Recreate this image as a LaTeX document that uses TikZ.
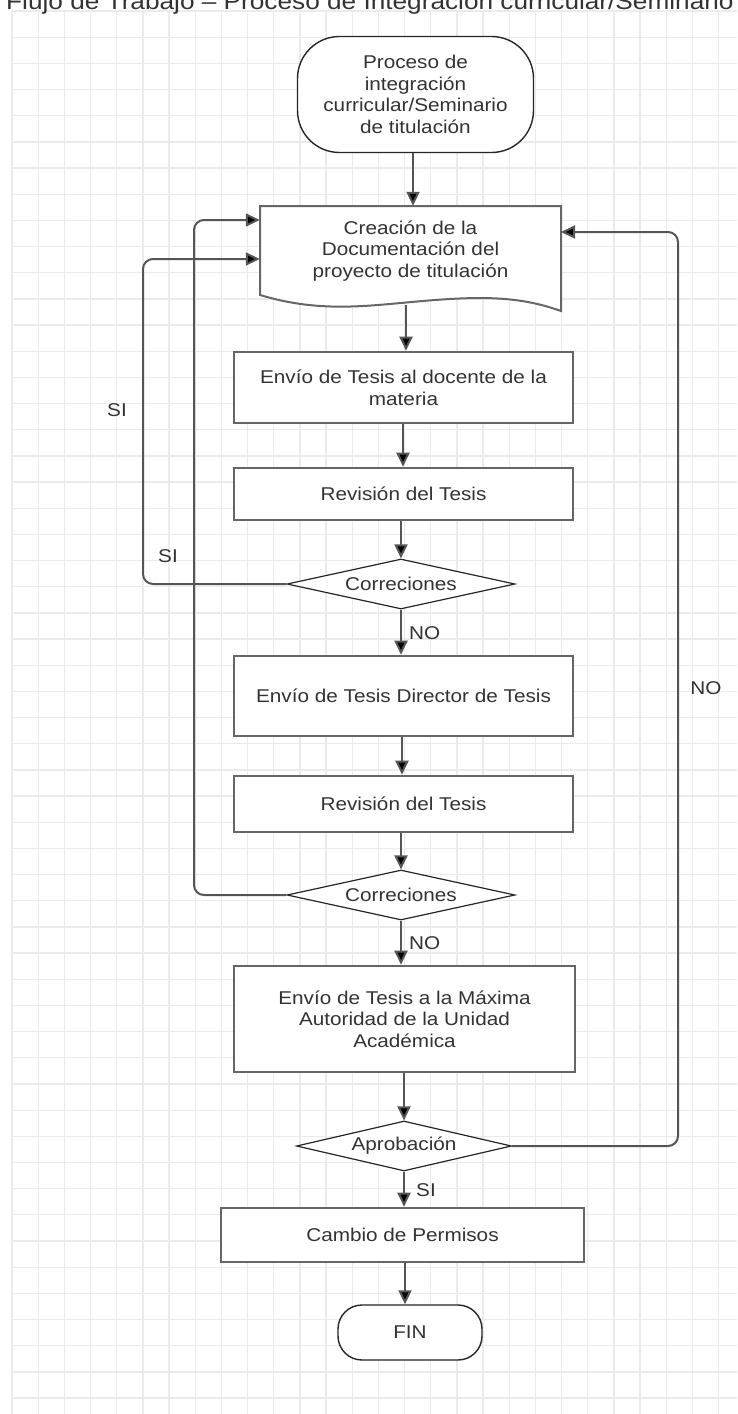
\documentclass[tikz,border=0pt]{standalone}
\usepackage{fontspec}
\setmainfont{Liberation Sans}[FakeStretch=1.12]
\usetikzlibrary{arrows.meta,shapes.geometric}
\definecolor{gridc}{HTML}{EBEBEB}
\definecolor{linec}{HTML}{555555}
\definecolor{boxc}{HTML}{666666}
\definecolor{txt}{HTML}{333333}
\definecolor{outl}{HTML}{262626}
\begin{document}
\begin{tikzpicture}[x=1pt,y=-1pt,
  every node/.style={font=\fontsize{18.5}{21.7}\selectfont, text=txt},
  procbox/.style={draw=boxc, line width=2.6pt, fill=white, rectangle, align=center, inner sep=0pt},
  termbox/.style={draw=outl, line width=1.4pt, fill=white, rectangle, rounded corners=#1, align=center, inner sep=0pt},
  decbox/.style={draw=outl, line width=1.2pt, fill=white, diamond, inner sep=0pt},
  conn/.style={draw=linec, line width=2pt, -{Triangle[length=14pt,width=13pt,fill=black]}},
  loopconn/.style={conn, rounded corners=10pt},
  lbl/.style={inner sep=0pt}
]
% canvas
\useasboundingbox (0,0) rectangle (737,1414);
\fill[white] (0,0) rectangle (737,1414);
\clip (0,0) rectangle (737,1414);
% grid
\foreach \i in {0,...,27} {\draw[gridc, line width=1.3pt] ({12+26.17*\i},11) -- ({12+26.17*\i},1414);}
\foreach \i in {0,...,53} {\draw[gridc, line width=1.3pt] (12,{11+26.17*\i}) -- (737,{11+26.17*\i});}
% title
\node[lbl, anchor=base west, font=\fontsize{23.4}{26}\selectfont] (title) at (6,9.5) {Flujo de Trabajo – Proceso de Integración curricular/Seminario de titulación};

% nodes
\node[termbox=42pt, minimum width=236pt, minimum height=116pt] (start) at (415.5,94.5)
  {Proceso de\\integración\\curricular/Seminario\\de titulación};

% document shape
\node[rectangle, inner sep=0pt, minimum width=301pt, minimum height=90pt, align=center] (doc) at (410.5,251) {};
\draw[draw=boxc, line width=2pt, fill=white] (260,206) -- (561,206) -- (561,311)
  .. controls (530,300) and (500,296) .. (450,299)
  .. controls (380,303) and (330,316) .. (260,295) -- cycle;
\node[rectangle, inner sep=0pt, align=center] (doctext) at (410.5,251)
  {Creación de la\\Documentación del\\proyecto de titulación};
\coordinate (docb) at (406,305);

\node[procbox, minimum width=339pt, minimum height=71pt] (r1) at (403.5,387.5)
  {Envío de Tesis al docente de la\\materia};
\node[procbox, minimum width=339pt, minimum height=52pt] (r2) at (403.5,494)
  {Revisión del Tesis};
\node[decbox, aspect=4.56, minimum width=228pt, minimum height=50pt] (d1) at (401,584) {Correciones};
\node[procbox, minimum width=339pt, minimum height=80pt] (r3) at (403.5,696)
  {Envío de Tesis Director de Tesis};
\node[procbox, minimum width=339pt, minimum height=56pt] (r4) at (403.5,804)
  {Revisión del Tesis};
\node[decbox, aspect=4.56, minimum width=228pt, minimum height=50pt] (d2) at (401,895) {Correciones};
\node[procbox, minimum width=341pt, minimum height=106pt] (r5) at (404.5,1019)
  {Envío de Tesis a la Máxima\\Autoridad de la Unidad\\Académica};
\node[decbox, aspect=4.3, minimum width=215pt, minimum height=50pt] (d3) at (404,1146) {Aprobación};
\node[procbox, minimum width=363pt, minimum height=54pt] (r6) at (402.5,1235)
  {Cambio de Permisos};
\node[termbox=24pt, minimum width=144pt, minimum height=55pt] (fin) at (410,1332.5) {FIN};

% main connectors
\draw[conn] (start.south -| 413,0) -- (doc.north -| 413,0);
\draw[conn] (docb) -- (docb |- r1.north);
\draw[conn] (r1.south -| 403,0) -- (r2.north -| 403,0);
\draw[conn] (r2.south -| d1.north) -- (d1.north);
\draw[conn] (d1.south) -- (r3.north -| d1.south);
\draw[conn] (r3.south -| 402,0) -- (r4.north -| 402,0);
\draw[conn] (r4.south -| d2.north) -- (d2.north);
\draw[conn] (d2.south) -- (r5.north -| d2.south);
\draw[conn] (r5.south -| d3.north) -- (d3.north);
\draw[conn] (d3.south) -- (r6.north -| d3.south);
\draw[conn] (r6.south -| 405,0) -- (fin.north -| 405,0);

% loops
\draw[loopconn] (d1.west) -- (143,584) -- (143,259) -- (doc.west |- 0,259);
\draw[loopconn] (d2.west) -- (194,895) -- (194,220) -- (doc.west |- 0,220);
\draw[loopconn] (d3.east) -- (678,1146) -- (678,232) -- (561,232);

% labels
\node[lbl, anchor=west] (no1) at (409,633) {NO};
\node[lbl, anchor=west] (no2) at (409,943) {NO};
\node[lbl, anchor=west] (si3) at (416,1190) {SI};
\node[lbl] (si1) at (117,410) {SI};
\node[lbl] (si2) at (168,556) {SI};
\node[lbl] (no3) at (706,688) {NO};
\end{tikzpicture}
\end{document}
